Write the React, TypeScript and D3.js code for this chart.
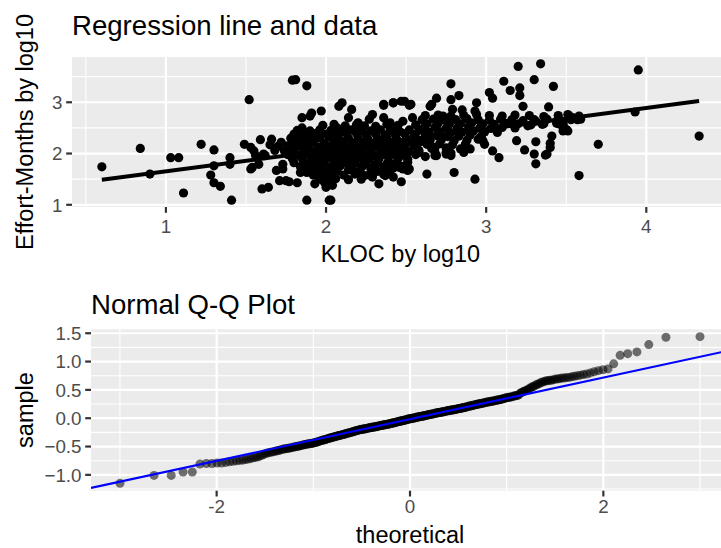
import React from "react";
import * as d3 from "d3";

// ---------- Data: top scatter (log10 KLOC, log10 effort-months) ----------
const sparsePoints: [number, number][] = [
  [0.60,1.74],[0.84,2.10],[0.90,1.60],[1.03,1.92],[1.08,1.92],[1.11,1.23],[1.22,2.18],[1.30,2.07],
  [1.30,1.76],[1.28,1.58],[1.30,1.43],[1.34,1.36],[1.40,1.92],[1.40,1.79],[1.41,1.09],[1.52,3.05],
  [1.49,2.18],[1.53,2.12],[1.55,2.05],[1.53,1.70],[1.58,1.79],[1.57,1.92],[1.61,1.99],[1.66,2.28],
  [1.65,2.17],[1.69,1.67],[1.73,1.79],[1.75,1.47],[1.71,1.47],[1.60,1.31],[1.64,1.34],[1.77,1.45],
  [1.82,1.43],[1.59,2.27],[1.62,1.96],[1.54,1.73],[1.56,1.96],[1.73,1.70],[1.76,2.15],[1.83,2.31],
  [1.86,2.28],[1.85,2.50],[1.85,2.47],
  [1.79,3.43],[1.81,3.44],[1.88,3.32],[1.85,2.70],[1.90,2.73],[1.91,2.79],[1.97,2.83],
  [1.88,1.09],[2.02,1.09],[2.03,1.09],[1.93,1.41],[1.99,1.44],[2.04,1.38],[2.00,1.34],[2.33,1.41],[2.47,1.45],
];

const upperMidPoints: [number, number][] = [
  [2.08,2.92],[2.10,2.99],[2.16,2.86],[2.14,2.70],[2.20,2.60],[2.24,2.54],[2.27,2.67],[2.29,2.76],
  [2.36,2.94],[2.42,2.99],[2.49,3.02],[2.52,2.94],[2.54,2.70],[2.36,2.70],[2.40,2.60],[2.44,2.50],
  [2.48,2.63],[2.07,2.50],[2.11,2.47],[2.36,2.96],[2.42,2.99],[2.47,3.02],
];

const lowerMidPoints: [number, number][] = [
  [1.86,1.76],[1.84,1.63],[1.88,1.63],[1.97,1.83],[1.93,1.70],[2.01,1.57],[2.04,1.70],[2.03,1.44],
  [2.15,1.76],[2.19,1.63],[2.23,1.76],[2.28,1.70],[2.24,1.57],[2.29,1.54],[2.40,1.70],[2.46,1.73],
  [2.51,1.67],[2.37,1.57],[2.42,1.54],[2.48,1.70],[2.42,1.79],[2.51,1.83],
];

const rightPoints: [number, number][] = [
  [2.53,2.96],[2.65,2.92],[2.69,3.08],[2.78,3.05],[2.83,3.13],[2.94,2.99],[2.73,2.73],[2.79,2.86],
  [2.85,2.85],[2.93,2.83],[2.78,3.36],[3.20,3.70],[3.34,3.75],[3.11,3.41],[3.30,3.44],[3.42,3.31],
  [3.15,3.23],[3.21,3.28],[3.21,3.13],[3.02,3.19],[3.04,3.08],[2.66,2.96],
  [3.23,2.92],[3.39,2.91],[3.26,2.54],[3.44,2.63],[3.51,2.44],[3.52,2.73],[3.57,2.66],[3.31,2.63],
  [3.35,2.57],[3.48,2.60],[3.19,2.25],[3.24,2.07],[3.30,1.99],[3.31,1.80],[3.31,2.23],[3.37,1.97],
  [3.40,2.20],[3.41,2.34],[3.40,2.12],[3.38,1.99],[2.99,2.18],[3.04,2.05],[3.08,1.92],[2.98,2.25],
  [2.62,1.94],[2.52,1.70],[2.63,1.60],[2.80,1.63],[2.93,1.50],[2.68,1.96],[2.75,2.02],[2.78,1.96],
  [2.86,2.02],[2.90,2.09],[2.69,1.96],[2.75,1.99],[2.68,2.12],
  [3.58,1.57],[3.95,3.63],[3.93,2.81],[4.33,2.34],[3.70,2.18],
  [3.51,2.76],[3.50,2.47],[3.48,2.57],[3.59,2.67],[3.58,2.73],[3.54,2.70],[3.46,2.57],[3.48,2.44],
];

const denseCorePoints: [number, number][] = [
  [1.98,2.55],[2.05,2.57],[2.12,2.54],[2.19,2.56],[2.31,2.53],[2.38,2.57],[2.45,2.55],[2.56,2.56],
  [1.82,2.45],[1.90,2.44],[1.96,2.46],[2.03,2.45],[2.10,2.43],[2.16,2.46],[2.22,2.45],[2.28,2.44],
  [2.34,2.46],[2.40,2.45],[2.46,2.43],[2.52,2.46],[2.58,2.45],
  [1.80,2.38],[1.87,2.37],[1.93,2.39],[2.00,2.38],[2.07,2.36],[2.13,2.38],[2.19,2.39],[2.25,2.37],
  [2.31,2.38],[2.37,2.36],[2.43,2.38],[2.49,2.39],[2.55,2.37],
  [1.78,2.30],[1.84,2.31],[1.90,2.29],[1.96,2.30],[2.02,2.32],[2.08,2.29],[2.14,2.30],[2.20,2.31],
  [2.26,2.29],[2.32,2.30],[2.38,2.31],[2.44,2.29],[2.50,2.30],[2.56,2.31],
  [1.72,2.22],[1.80,2.21],[1.86,2.23],[1.92,2.22],[1.99,2.20],[2.05,2.22],[2.11,2.23],[2.17,2.21],
  [2.23,2.22],[2.29,2.20],[2.35,2.23],[2.41,2.22],[2.47,2.21],[2.53,2.22],[2.59,2.23],
  [1.70,2.14],[1.77,2.13],[1.83,2.15],[1.89,2.14],[1.95,2.12],[2.01,2.14],[2.07,2.15],[2.13,2.13],
  [2.19,2.14],[2.25,2.15],[2.31,2.13],[2.37,2.14],[2.43,2.12],[2.49,2.14],[2.55,2.15],
  [1.68,2.06],[1.74,2.05],[1.80,2.07],[1.86,2.06],[1.92,2.04],[1.98,2.06],[2.04,2.07],[2.10,2.05],
  [2.16,2.06],[2.22,2.04],[2.28,2.06],[2.34,2.07],[2.40,2.05],[2.46,2.06],[2.52,2.04],[2.58,2.06],
  [1.76,1.98],[1.82,1.97],[1.88,1.99],[1.94,1.98],[2.00,1.96],[2.06,1.98],[2.12,1.99],[2.18,1.97],
  [2.24,1.98],[2.30,1.96],[2.36,1.98],[2.42,1.99],[2.48,1.97],[2.56,1.98],
  [1.79,1.90],[1.85,1.91],[1.91,1.89],[1.97,1.90],[2.03,1.92],[2.09,1.89],[2.15,1.90],[2.21,1.91],
  [2.27,1.89],[2.33,1.90],[2.39,1.92],[2.45,1.90],[2.51,1.89],
  [1.80,1.82],[1.86,1.83],[1.93,1.81],[1.99,1.82],[2.05,1.84],[2.12,1.82],[2.18,1.81],[2.25,1.83],
  [2.32,1.82],[2.38,1.80],[2.44,1.82],
  [1.84,1.74],[1.90,1.75],[1.97,1.73],[2.03,1.74],[2.09,1.76],[2.16,1.74],[2.22,1.73],[2.30,1.75],
  [2.36,1.74],[2.42,1.72],[2.48,1.75],
  [1.88,1.66],[1.95,1.67],[2.01,1.65],[2.07,1.66],[2.14,1.68],[2.21,1.66],[2.32,1.65],[2.40,1.67],
  [1.92,1.58],[1.98,1.59],[2.04,1.57],[2.11,1.58],[2.18,1.60],[2.27,1.58],[2.36,1.59],
  [1.96,1.50],[2.06,1.51],[2.14,1.49],[2.22,1.50],
  [2.62,2.74],[2.70,2.75],[2.78,2.73],[2.86,2.74],[2.94,2.76],[3.02,2.74],[3.10,2.73],[3.18,2.75],
  [3.27,2.74],[3.36,2.72],[3.45,2.74],
  [2.60,2.66],[2.67,2.67],[2.74,2.65],[2.81,2.66],[2.88,2.68],[2.95,2.66],[3.02,2.65],[3.09,2.67],
  [3.16,2.66],[3.23,2.64],[3.30,2.66],[3.38,2.67],[3.46,2.65],[3.53,2.66],
  [2.63,2.58],[2.70,2.59],[2.77,2.57],[2.84,2.58],[2.91,2.60],[2.98,2.58],[3.05,2.57],[3.12,2.59],
  [3.20,2.58],[3.28,2.56],[3.36,2.58],[3.44,2.59],
  [2.61,2.50],[2.68,2.51],[2.75,2.49],[2.82,2.50],[2.89,2.52],[2.96,2.50],[3.03,2.49],[3.10,2.51],[3.18,2.50],
  [2.64,2.42],[2.71,2.43],[2.78,2.41],[2.85,2.42],[2.92,2.44],[2.99,2.42],[3.07,2.41],
  [2.62,2.34],[2.69,2.35],[2.76,2.33],[2.83,2.34],[2.90,2.36],[2.97,2.34],
  [2.65,2.26],[2.72,2.27],[2.80,2.25],[2.88,2.26],[2.95,2.28],
  [2.63,2.18],[2.71,2.19],[2.79,2.17],[2.87,2.18],
  [2.66,2.10],[2.75,2.11],[2.84,2.09],
  [2.58,2.02],[2.68,2.03],[2.78,2.01],
];

const regressionCoef = [1.243, 0.411]; // intercept, slope

// ---------- Data: Q-Q plot (sorted sample residuals) ----------
const qqSample: number[] = [
  -1.15,-1.01,-1.01,-0.95,-0.95,-0.81,
  -0.80,-0.80,-0.79,-0.79,-0.78,-0.77,-0.76,
  -0.75,-0.745,-0.74,-0.73,-0.72,-0.71,-0.70,-0.69,-0.68,-0.665,-0.65,-0.63,
  -0.62,-0.61,-0.60,-0.595,-0.59,-0.58,-0.575,-0.565,-0.56,-0.55,
  -0.545,-0.54,-0.535,-0.53,-0.525,-0.52,-0.515,-0.51,-0.505,-0.50,-0.495,-0.49,-0.485,-0.48,-0.475,-0.47,-0.465,-0.46,-0.456,-0.452,-0.45,-0.447,-0.443,-0.44,
  -0.435,-0.43,-0.425,-0.42,-0.41,-0.405,-0.40,-0.395,-0.39,-0.385,-0.38,-0.375,-0.37,-0.365,-0.36,-0.355,-0.35,-0.345,-0.34,-0.335,
  -0.331,-0.327,-0.323,-0.319,-0.315,-0.311,-0.307,-0.303,-0.299,-0.295,-0.291,-0.287,-0.283,-0.279,-0.275,-0.271,-0.267,-0.263,-0.259,-0.255,-0.251,-0.247,-0.243,-0.239,-0.235,-0.231,-0.227,-0.223,-0.219,-0.215,-0.211,-0.208,-0.205,
  -0.20,-0.20,-0.20,-0.19,-0.19,-0.19,-0.19,-0.18,-0.18,-0.18,-0.18,-0.17,-0.17,-0.17,-0.17,-0.16,-0.16,-0.16,-0.16,-0.15,-0.15,-0.15,-0.15,-0.14,-0.14,-0.14,-0.14,-0.13,-0.13,-0.13,-0.13,-0.12,-0.12,-0.12,-0.12,-0.11,-0.11,-0.11,-0.11,-0.10,-0.10,-0.10,-0.10,-0.09,-0.09,-0.09,-0.09,-0.08,-0.08,-0.08,-0.07,-0.07,-0.07,-0.07,-0.06,-0.06,-0.06,-0.05,-0.05,-0.05,-0.05,-0.04,-0.04,-0.04,-0.03,-0.03,-0.03,-0.03,-0.02,-0.02,-0.02,-0.01,-0.01,
  -0.01,-0.01,0.00,0.00,0.00,0.00,0.01,0.01,0.01,0.01,0.02,0.02,0.02,0.02,0.03,0.03,0.03,0.03,0.04,0.04,0.04,0.04,0.05,0.05,0.05,0.05,0.06,0.06,0.06,0.06,0.07,0.07,0.07,0.07,0.08,0.08,0.08,0.08,0.09,0.09,0.09,0.09,0.10,0.10,0.10,0.10,0.11,0.11,0.11,0.11,0.12,0.12,0.12,0.12,0.13,0.13,0.13,0.13,0.14,0.14,0.14,0.14,0.15,0.15,0.15,0.15,0.16,0.16,0.16,0.16,0.17,0.17,0.17,
  0.17,0.18,0.18,0.18,0.19,0.19,0.19,0.20,0.20,0.20,0.21,0.21,0.21,0.22,0.22,0.22,0.23,0.23,0.23,0.24,0.24,0.24,0.25,0.25,0.25,0.26,0.26,0.26,0.27,0.27,0.27,0.28,0.28,0.28,0.29,0.29,0.29,0.30,0.30,0.30,0.31,0.31,0.31,0.32,0.32,0.32,0.33,0.33,0.34,0.34,0.35,0.35,0.36,0.36,0.37,0.37,
  0.37,0.38,0.38,0.39,0.39,0.40,0.40,0.41,
  0.43,0.45,0.46,0.47,0.48,0.49,
  0.50,0.52,0.53,0.55,0.56,0.57,0.59,0.60,0.61,0.63,0.64,
  0.65,0.66,0.66,0.67,0.67,0.68,0.69,0.69,0.70,
  0.71,0.71,0.72,0.72,0.73,0.74,
  0.75,0.76,0.77,0.78,
  0.80,0.82,0.84,
  0.855,0.87,0.96,1.11,1.14,1.17,1.30,1.43,1.44,
];

const qqLineCoef = [-0.017, 0.3675]; // intercept, slope

// ---------- Ticks ----------
const topXTicks = [1, 2, 3, 4];
const topXMinor = [0.5, 1.5, 2.5, 3.5, 4.5];
const topYTicks = [1, 2, 3];
const topYMinor = [1.5, 2.5, 3.5];
const qqXTicks = [-2, 0, 2];
const qqXMinor = [-3, -1, 1, 3];
const qqYTicks = [-1, -0.5, 0, 0.5, 1, 1.5];
const qqYMinor = [-1.25, -0.75, -0.25, 0.25, 0.75, 1.25];

// ---------- Helpers ----------
function qnorm(p: number): number {
  const a = [-3.969683028665376e1, 2.209460984245205e2, -2.759285104469687e2, 1.38357751867269e2, -3.066479806614716e1, 2.506628277459239];
  const b = [-5.447609879822406e1, 1.615858368580409e2, -1.556989798598866e2, 6.680131188771972e1, -1.328068155288572e1];
  const c = [-7.784894002430293e-3, -3.223964580411365e-1, -2.400758277161838, -2.549732539343734, 4.374664141464968, 2.938163982698783];
  const d = [7.784695709041462e-3, 3.224671290700398e-1, 2.445134137142996, 3.754408661907416];
  const pl = 0.02425;
  if (p < pl) {
    const q = Math.sqrt(-2 * Math.log(p));
    return (((((c[0] * q + c[1]) * q + c[2]) * q + c[3]) * q + c[4]) * q + c[5]) / ((((d[0] * q + d[1]) * q + d[2]) * q + d[3]) * q + 1);
  }
  if (p > 1 - pl) {
    const q = Math.sqrt(-2 * Math.log(1 - p));
    return -(((((c[0] * q + c[1]) * q + c[2]) * q + c[3]) * q + c[4]) * q + c[5]) / ((((d[0] * q + d[1]) * q + d[2]) * q + d[3]) * q + 1);
  }
  const q = p - 0.5;
  const r = q * q;
  return ((((((a[0] * r + a[1]) * r + a[2]) * r + a[3]) * r + a[4]) * r + a[5]) * q) / (((((b[0] * r + b[1]) * r + b[2]) * r + b[3]) * r + b[4]) * r + 1);
}

function expand(ext: [number, number]): [number, number] {
  const r = ext[1] - ext[0];
  return [ext[0] - 0.05 * r, ext[1] + 0.05 * r];
}

const FONT = "'Liberation Sans', Arial, Helvetica, sans-serif";
const TICK_COLOR = "#333333";
const LABEL_COLOR = "#4D4D4D";
const PANEL_BG = "#EBEBEB";

export default function App() {
  const W = 721;
  const H = 548;

  const scatter = [...sparsePoints, ...upperMidPoints, ...lowerMidPoints, ...rightPoints, ...denseCorePoints];

  // top panel
  const tp = { left: 72, right: 729, top: 57, bottom: 207 };
  const xExt = d3.extent(scatter, (d) => d[0]) as [number, number];
  const yExt = d3.extent(scatter, (d) => d[1]) as [number, number];
  const tx = d3.scaleLinear().domain(expand(xExt)).range([tp.left, tp.right]);
  const ty = d3.scaleLinear().domain(expand(yExt)).range([tp.bottom, tp.top]);
  const regLine = d3
    .line<number>()
    .x((v) => tx(v))
    .y((v) => ty(regressionCoef[0] + regressionCoef[1] * v));

  // bottom panel
  const bp = { left: 91, right: 729, top: 329.3, bottom: 490.7 };
  const n = qqSample.length;
  const sorted = [...qqSample].sort((a, b) => a - b);
  const qq = sorted.map((s, i) => [qnorm((i + 1 - 0.5) / n), s] as [number, number]);
  const qxExt = d3.extent(qq, (d) => d[0]) as [number, number];
  const qyExt = d3.extent(qq, (d) => d[1]) as [number, number];
  const bx = d3.scaleLinear().domain(expand(qxExt)).range([bp.left, bp.right]);
  const by = d3.scaleLinear().domain(expand(qyExt)).range([bp.bottom, bp.top]);
  const qqLine = d3
    .line<number>()
    .x((v) => bx(v))
    .y((v) => by(qqLineCoef[0] + qqLineCoef[1] * v));

  const tickLen = 5.8;
  const major = 2.2;
  const minor = 1.1;

  return (
    <div style={{ position: "absolute", left: 0, top: 0, width: W, height: H, background: "white" }}>
      <svg width={W} height={H} style={{ display: "block", fontFamily: FONT }}>
        <defs>
          <clipPath id="clipTop">
            <rect x={tp.left} y={tp.top} width={tp.right - tp.left} height={tp.bottom - tp.top} />
          </clipPath>
          <clipPath id="clipBot">
            <rect x={bp.left} y={bp.top} width={bp.right - bp.left} height={bp.bottom - bp.top} />
          </clipPath>
        </defs>

        {/* ---------- Top panel ---------- */}
        <text x={tp.left} y={34.5} fontSize={27.6} fill="#000">Regression line and data</text>
        <rect x={tp.left} y={tp.top} width={tp.right - tp.left} height={tp.bottom - tp.top} fill={PANEL_BG} />
        <g clipPath="url(#clipTop)">
          {topXMinor.map((v) => (
            <line key={"txm" + v} x1={tx(v)} x2={tx(v)} y1={tp.top} y2={tp.bottom} stroke="#fff" strokeWidth={minor} />
          ))}
          {topYMinor.map((v) => (
            <line key={"tym" + v} x1={tp.left} x2={tp.right} y1={ty(v)} y2={ty(v)} stroke="#fff" strokeWidth={minor} />
          ))}
          {topXTicks.map((v) => (
            <line key={"txM" + v} x1={tx(v)} x2={tx(v)} y1={tp.top} y2={tp.bottom} stroke="#fff" strokeWidth={major} />
          ))}
          {topYTicks.map((v) => (
            <line key={"tyM" + v} x1={tp.left} x2={tp.right} y1={ty(v)} y2={ty(v)} stroke="#fff" strokeWidth={major} />
          ))}
          {scatter.map((d, i) => (
            <circle key={"p" + i} cx={tx(d[0])} cy={ty(d[1])} r={4.6} fill="#000" />
          ))}
          <path d={regLine(xExt) || ""} fill="none" stroke="#000" strokeWidth={4} />
        </g>
        {topXTicks.map((v) => (
          <g key={"txt" + v}>
            <line x1={tx(v)} x2={tx(v)} y1={tp.bottom} y2={tp.bottom + tickLen} stroke={TICK_COLOR} strokeWidth={major} />
            <text x={tx(v)} y={232.5} textAnchor="middle" fontSize={18.8} fill={LABEL_COLOR}>{v}</text>
          </g>
        ))}
        {topYTicks.map((v) => (
          <g key={"tyt" + v}>
            <line x1={tp.left - tickLen} x2={tp.left} y1={ty(v)} y2={ty(v)} stroke={TICK_COLOR} strokeWidth={major} />
            <text x={tp.left - 9.5} y={ty(v)} dy="0.36em" textAnchor="end" fontSize={18.8} fill={LABEL_COLOR}>{v}</text>
          </g>
        ))}
        <text x={(tp.left + tp.right) / 2} y={261.7} textAnchor="middle" fontSize={23.5} fill="#000">KLOC by log10</text>
        <text
          transform={`translate(33.3, ${(tp.top + tp.bottom) / 2}) rotate(-90)`}
          textAnchor="middle"
          fontSize={23.5}
          fill="#000"
        >
          Effort-Months by log10
        </text>

        {/* ---------- Bottom panel ---------- */}
        <text x={bp.left} y={313.5} fontSize={27.6} fill="#000">Normal Q-Q Plot</text>
        <rect x={bp.left} y={bp.top} width={bp.right - bp.left} height={bp.bottom - bp.top} fill={PANEL_BG} />
        <g clipPath="url(#clipBot)">
          {qqXMinor.map((v) => (
            <line key={"bxm" + v} x1={bx(v)} x2={bx(v)} y1={bp.top} y2={bp.bottom} stroke="#fff" strokeWidth={minor} />
          ))}
          {qqYMinor.map((v) => (
            <line key={"bym" + v} x1={bp.left} x2={bp.right} y1={by(v)} y2={by(v)} stroke="#fff" strokeWidth={minor} />
          ))}
          {qqXTicks.map((v) => (
            <line key={"bxM" + v} x1={bx(v)} x2={bx(v)} y1={bp.top} y2={bp.bottom} stroke="#fff" strokeWidth={major} />
          ))}
          {qqYTicks.map((v) => (
            <line key={"byM" + v} x1={bp.left} x2={bp.right} y1={by(v)} y2={by(v)} stroke="#fff" strokeWidth={major} />
          ))}
          {qq.map((d, i) => (
            <circle
              key={"q" + i}
              cx={bx(d[0])}
              cy={by(d[1])}
              r={4.5}
              fill="#000"
              fillOpacity={0.55}
            />
          ))}
          <path d={qqLine(bx.domain()) || ""} fill="none" stroke="#0000FF" strokeWidth={2.1} />
        </g>
        {qqXTicks.map((v) => (
          <g key={"bxt" + v}>
            <line x1={bx(v)} x2={bx(v)} y1={bp.bottom} y2={bp.bottom + tickLen} stroke={TICK_COLOR} strokeWidth={major} />
            <text x={bx(v)} y={513} textAnchor="middle" fontSize={18.8} fill={LABEL_COLOR}>{v}</text>
          </g>
        ))}
        {qqYTicks.map((v) => (
          <g key={"byt" + v}>
            <line x1={bp.left - tickLen} x2={bp.left} y1={by(v)} y2={by(v)} stroke={TICK_COLOR} strokeWidth={major} />
            <text x={bp.left - 9.5} y={by(v)} dy="0.36em" textAnchor="end" fontSize={18.8} fill={LABEL_COLOR}>
              {d3.format(".1f")(v)}
            </text>
          </g>
        ))}
        <text x={(bp.left + bp.right) / 2} y={543} textAnchor="middle" fontSize={23.5} fill="#000">theoretical</text>
        <text
          transform={`translate(33.3, ${(bp.top + bp.bottom) / 2}) rotate(-90)`}
          textAnchor="middle"
          fontSize={23.5}
          fill="#000"
        >
          sample
        </text>
      </svg>
    </div>
  );
}
